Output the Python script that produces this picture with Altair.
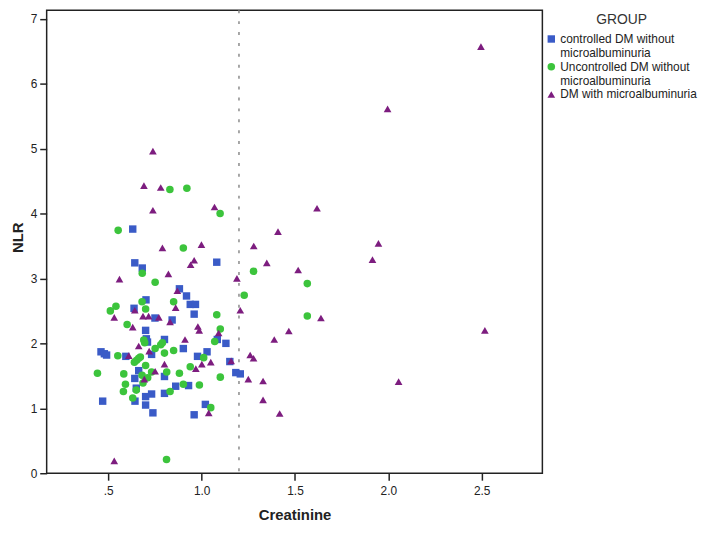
import altair as alt
import pandas as pd

groups = ["controlled DM without microalbuminuria",
          "Uncontrolled DM without microalbuminuria",
          "DM with microalbuminuria"]
colors = ["#3a5bc7", "#3cc43c", "#7d1d7f"]
shapes = ["square", "circle", "triangle-up"]
sizes = [56, 60, 80]

# controlled DM without microalbuminuria (blue squares)
ctrl_creat = [0.631, 0.642, 0.682, 1.081, 0.881, 0.919, 0.939, 0.967, 0.702, 0.638,
              0.960, 0.750, 0.842, 0.700, 1.084, 0.704, 0.710, 0.801, 1.130, 0.902,
              0.732, 1.029, 0.461, 0.479, 0.491, 0.594, 0.978, 1.151, 0.663, 1.183,
              1.207, 0.642, 0.801, 0.650, 0.861, 0.930, 0.801, 0.732, 0.700, 0.643,
              0.470, 0.700, 1.020, 0.739, 0.960]
ctrl_nlr = [3.76, 3.24, 3.16, 3.25, 2.84, 2.73, 2.60, 2.60, 2.67, 2.54,
            2.45, 2.39, 2.36, 2.20, 2.06, 2.07, 2.02, 2.06, 2.00, 1.92,
            1.83, 1.87, 1.87, 1.84, 1.82, 1.80, 1.80, 1.72, 1.58, 1.55,
            1.53, 1.46, 1.49, 1.31, 1.34, 1.35, 1.23, 1.22, 1.18, 1.11,
            1.11, 1.05, 1.06, 0.93, 0.90]

# Uncontrolled DM without microalbuminuria (green circles)
unc_creat = [0.830, 0.921, 1.099, 0.553, 0.902, 1.278, 0.682, 0.751, 1.228, 0.681,
             0.850, 0.541, 0.511, 0.700, 1.081, 1.566, 1.566, 0.601, 1.100, 1.070,
             0.695, 0.690, 0.790, 0.781, 0.751, 0.850, 0.801, 0.551, 0.672, 0.663,
             0.652, 0.640, 1.011, 0.939, 0.700, 0.732, 0.813, 0.442, 0.583, 0.881,
             0.681, 1.100, 0.711, 0.592, 0.686, 0.650, 0.902, 0.988, 0.831, 0.581,
             0.631, 1.049, 0.812]
unc_nlr = [4.37, 4.39, 4.00, 3.74, 3.47, 3.11, 3.08, 2.94, 2.74, 2.64,
           2.64, 2.57, 2.50, 2.53, 2.44, 2.92, 2.42, 2.29, 2.22, 2.03,
           2.01, 2.05, 2.01, 1.98, 1.92, 1.89, 1.85, 1.81, 1.79, 1.77,
           1.74, 1.71, 1.78, 1.64, 1.66, 1.56, 1.56, 1.54, 1.53, 1.54,
           1.51, 1.48, 1.47, 1.37, 1.39, 1.28, 1.37, 1.36, 1.26, 1.26,
           1.16, 1.01, 0.21]

# DM with microalbuminuria (purple triangles)
micro_creat = [0.739, 0.691, 0.781, 0.739, 1.069, 1.409, 0.790, 0.999, 1.279, 2.496,
               1.996, 1.618, 1.947, 1.349, 1.915, 1.517, 1.189, 1.207, 1.639, 2.517,
               1.467, 1.389, 1.158, 1.260, 1.278, 1.250, 1.329, 2.055, 1.329, 1.418,
               0.960, 0.941, 0.560, 0.822, 0.870, 0.861, 0.642, 0.532, 0.686, 0.716,
               0.771, 0.831, 0.631, 0.980, 0.987, 1.091, 0.911, 0.663, 0.719, 0.610,
               1.001, 0.969, 1.049, 0.801, 0.751, 0.693, 1.038, 0.532]
micro_nlr = [4.96, 4.43, 4.40, 4.05, 4.10, 3.72, 3.47, 3.52, 3.50, 6.57,
             5.61, 4.08, 3.54, 3.24, 3.29, 3.13, 3.00, 2.51, 2.39, 2.20,
             2.19, 2.06, 1.73, 1.82, 1.77, 1.45, 1.42, 1.41, 1.13, 0.92,
             3.28, 3.21, 2.99, 3.07, 2.81, 2.55, 2.51, 2.40, 2.42, 2.42,
             2.40, 2.33, 2.25, 2.26, 2.20, 2.16, 2.06, 1.96, 1.88, 1.81,
             1.68, 1.61, 1.71, 1.68, 1.57, 1.45, 0.93, 0.19]

cutoff = [1.2]
x_ticks = [0.5, 1.0, 1.5, 2.0, 2.5]
y_ticks = [0, 1, 2, 3, 4, 5, 6, 7]

df = pd.concat([
    pd.DataFrame({"Creatinine": ctrl_creat, "NLR": ctrl_nlr, "GROUP": groups[0]}),
    pd.DataFrame({"Creatinine": unc_creat, "NLR": unc_nlr, "GROUP": groups[1]}),
    pd.DataFrame({"Creatinine": micro_creat, "NLR": micro_nlr, "GROUP": groups[2]}),
], ignore_index=True)

FONT = "Liberation Sans"
NARROW = "Liberation Sans Narrow, Liberation Sans, Arial"

legend = alt.Legend(
    title="GROUP", orient="none", legendX=503, legendY=3,
    titleAnchor="middle", titleFont=FONT, titleFontSize=14, titleFontWeight="normal",
    titleColor="#333", titlePadding=6,
    labelFont=FONT, labelFontSize=12, labelColor="#222", labelLimit=200,
    labelExpr="split(replace(datum.label, ' without ', ' without|'), '|')",
    symbolSize=45, symbolStrokeWidth=0, labelOffset=3, rowPadding=2, padding=0,
)

x_enc = alt.X("Creatinine:Q",
              scale=alt.Scale(domain=[0.17, 2.825], nice=False, zero=False),
              axis=alt.Axis(values=x_ticks, title="Creatinine",
                            labelExpr="datum.value == 0.5 ? '.5' : format(datum.value, '.1f')",
                            titleX=250, titleY=42, titleBaseline="middle",
                            titleFont=FONT, titleFontSize=15, titleFontWeight="bold",
                            titleColor="#222", tickSize=7, labelPadding=5))

points = alt.Chart(df).mark_point(filled=True, opacity=1).encode(
    x=x_enc,
    y=alt.Y("NLR:Q",
            scale=alt.Scale(domain=[0, 7.13], nice=False),
            axis=alt.Axis(values=y_ticks, title="NLR", format="d",
                          titleX=-29, titleY=229, titleBaseline="middle",
                          titleFont=FONT, titleFontSize=15, titleFontWeight="bold",
                          titleColor="#222", tickSize=7, labelPadding=3)),
    color=alt.Color("GROUP:N", scale=alt.Scale(domain=groups, range=colors), legend=legend),
    shape=alt.Shape("GROUP:N", scale=alt.Scale(domain=groups, range=shapes), legend=legend),
    size=alt.Size("GROUP:N", scale=alt.Scale(domain=groups, range=sizes), legend=None),
)

rule = alt.Chart(pd.DataFrame({"c": cutoff})).mark_rule(
    color="#8a8a8a", strokeDash=[3, 8], strokeWidth=1.5
).encode(x=alt.X("c:Q"))

chart = alt.layer(rule, points).properties(
    width=500, height=467,
    autosize=alt.AutoSizeParams(type="none"),
    padding={"left": 39, "top": 0, "right": 160, "bottom": 55},
).configure_view(
    stroke="#222", strokeWidth=1.5
).configure_axis(
    grid=False, domain=False, tickColor="#222", tickWidth=1.5,
    labelFont=NARROW, labelFontSize=12, labelColor="#222",
)

chart.save("out.html", embed_options={"renderer": "svg", "actions": False})
